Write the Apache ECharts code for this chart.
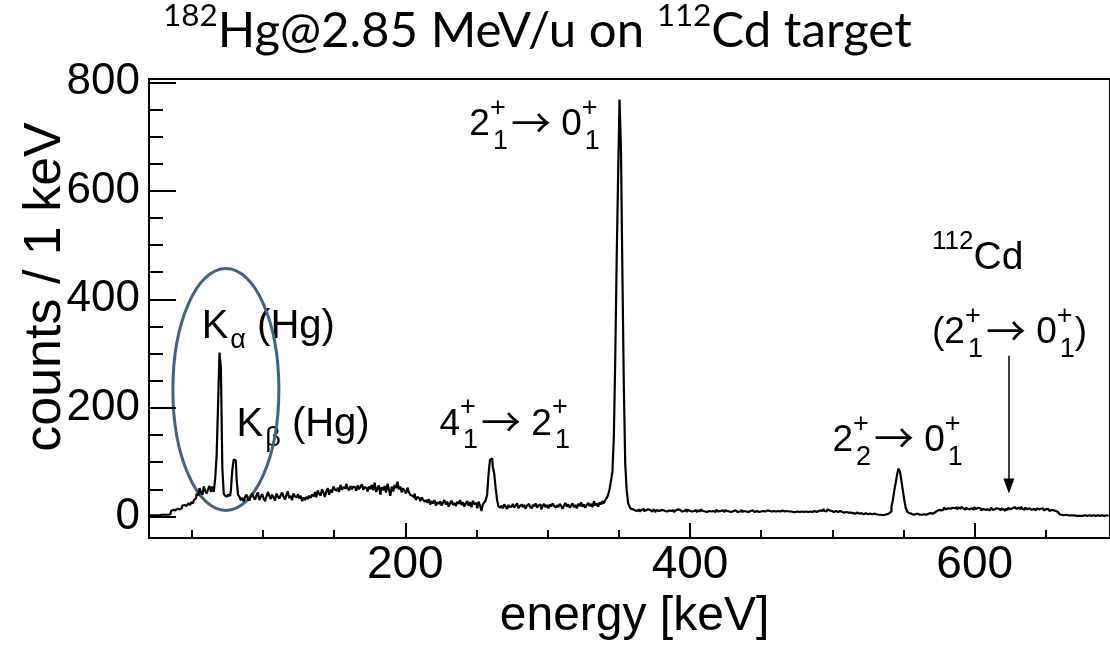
<!DOCTYPE html>
<html>
<head>
<meta charset="utf-8">
<script src="https://cdn.jsdelivr.net/npm/echarts@6/dist/echarts.min.js"></script>
<style>
  html, body { margin: 0; padding: 0; background: #fff; }
  #main { width: 1110px; height: 646px; }
</style>
</head>
<body>
<div id="main"></div>
<script>
// spectrum: counts per 1 keV bin, first bin at eMin
const eMin = 20;
const counts = [
  2,2,2,2,2,2,2,2,3,3,            // 20
  3,3,3,3,3,4,10,12,11,13,        // 30
  14,13,16,15,20,21,19,22,24,21,  // 40
  26,24,30,33,42,38,52,44,40,55,  // 50
  47,42,50,56,45,55,45,70,112,205,      // 60
  302,274,90,42,38,36,40,38,48,85,      // 70
  105,103,70,40,36,30,34,28,36,40,      // 80
  33,29,38,42,35,31,39,44,30,36,  // 90
  41,33,28,37,45,38,32,40,35,29,  // 100
  42,37,33,39,44,36,31,40,46,34,  // 110
  38,30,42,37,35,41,33,38,28,35,  // 120
  30,36,32,38,34,40,37,45,35,48,  // 130
  42,38,50,44,36,46,52,40,49,44,  // 140
  55,50,47,53,45,58,49,54,51,60,  // 150
  52,48,56,50,55,53,47,57,50,55,  // 160
  59,49,54,52,46,55,50,58,48,62,  // 170
  45,52,57,40,54,48,56,44,60,50,  // 180
  38,55,46,58,52,64,50,55,44,52,  // 190
  47,42,53,45,40,38,35,42,30,36,  // 200
  33,28,35,31,27,30,25,32,22,28,  // 210
  24,30,20,26,23,28,20,25,30,22,  // 220
  27,18,24,29,21,25,19,27,23,30,  // 230
  21,26,18,24,28,20,26,17,29,22,  // 240
  25,15,27,20,10,22,26,30,40,78,  // 250
  104,107,92,78,52,30,18,16,20,15,      // 260
  22,18,14,21,17,19,23,16,20,24,  // 270
  15,19,22,17,21,14,20,23,18,15,  // 280
  21,19,24,16,20,22,13,19,23,17,  // 290
  21,15,22,18,24,19,16,21,17,23,  // 300
  19,14,20,25,18,22,16,20,24,17,  // 310
  21,15,23,19,26,18,22,16,21,25,  // 320
  19,23,17,28,20,24,18,26,22,28,  // 330
  24,30,34,40,50,66,82,146,292,475,     // 340
  627,768,676,451,243,97,49,25,18,14,   // 350
  13,11,12,10,13,9,12,14,10,11,   // 360
  13,10,12,9,11,13,8,12,10,11,    // 370
  9,12,10,13,9,11,14,10,12,8,     // 380
  11,13,10,12,9,11,10,13,8,12,    // 390
  10,9,11,10,12,8,11,9,13,10,     // 400
  9,11,8,10,12,9,10,11,8,12,      // 410
  9,10,9,11,8,12,10,9,11,8,       // 420
  10,9,11,8,10,9,12,8,10,9,       // 430
  11,8,10,9,11,8,9,10,8,11,       // 440
  9,10,8,9,11,8,10,9,8,10,        // 450
  9,8,10,9,8,11,9,8,10,9,         // 460
  8,9,8,10,8,9,11,8,9,10,         // 470
  8,9,10,8,9,11,8,10,9,8,         // 480
  10,9,11,10,14,10,9,13,11,10,    // 490
  9,8,10,9,8,10,9,8,7,9,          // 500
  8,7,8,7,6,7,5,7,6,5,            // 510
  6,5,4,6,5,4,5,3,4,5,            // 520
  3,4,3,4,3,2,4,3,4,3,            // 530
  6,9,18,30,48,62,78,88,82,65,    // 540
  48,30,16,9,6,5,4,3,4,3,         // 550
  5,3,4,3,4,5,3,5,4,6,            // 560
  5,8,7,10,8,12,11,14,12,16,      // 570
  13,15,18,14,16,13,15,17,13,16,  // 580
  14,18,15,12,16,14,13,16,15,12,  // 590
  17,14,16,13,15,11,14,12,15,13,  // 600
  11,14,16,12,13,15,12,14,11,15,  // 610
  13,10,14,12,16,13,15,12,17,14,  // 620
  12,16,13,18,14,12,16,13,15,17,  // 630
  12,14,16,11,15,13,14,12,15,11,  // 640
  13,14,12,10,12,11,9,10,8,6,     // 650
  4,3,2,2,3,2,1,2,2,1,            // 660
  2,1,2,1,1,2,1,2,1,1,            // 670
  2,1,1,2,1,1,2,1,1,2,            // 680
  1,1,2,1,1                       // 690
];

const xMajorTicks = [200, 400, 600];
const xMinorTicks = [50, 100, 150, 250, 300, 350, 450, 500, 550, 650];
const yMajorTicks = [0, 200, 400, 600, 800];
const yMinorTicks = [50, 100, 150, 250, 300, 350, 450, 500, 550, 650, 700, 750];

const histData = counts.map((c, i) => [eMin + i, c]);

const AX = 'Liberation Sans';
const black = '#000';

const chart = echarts.init(document.getElementById('main'));

const option = {
  animation: false,
  backgroundColor: '#fff',
  grid: {
    left: 149, top: 79, width: 963, height: 463,
    show: true, borderColor: black, borderWidth: 2, backgroundColor: 'transparent'
  },
  xAxis: [
    {
      type: 'value', min: 20, max: 695, position: 'bottom',
      axisLine: { show: true, onZero: false, lineStyle: { color: black, width: 2 } },
      axisTick: { show: true, inside: true, length: 15, customValues: xMajorTicks, lineStyle: { color: black, width: 2 } },
      axisLabel: { customValues: xMajorTicks, fontSize: 46, fontFamily: AX, color: black, margin: 4 },
      splitLine: { show: false },
      name: 'energy [keV]', nameLocation: 'middle', nameGap: 52,
      nameTextStyle: { fontSize: 48, fontFamily: AX, color: black, padding: [0, 0, 0, 10] }
    },
    {
      type: 'value', min: 20, max: 695, position: 'bottom',
      axisLine: { show: false, onZero: false },
      axisTick: { show: true, inside: true, length: 8, customValues: xMinorTicks, lineStyle: { color: black, width: 2 } },
      axisLabel: { show: false },
      splitLine: { show: false }
    }
  ],
  yAxis: [
    {
      type: 'value', min: -40, max: 806, position: 'left',
      axisLine: { show: true, onZero: false, lineStyle: { color: black, width: 2 } },
      axisTick: { show: true, inside: true, length: 27, customValues: yMajorTicks, lineStyle: { color: black, width: 2 } },
      axisLabel: { customValues: yMajorTicks, fontSize: 44, fontFamily: AX, color: black, margin: 9 },
      splitLine: { show: false }
    },
    {
      type: 'value', min: -40, max: 806, position: 'left',
      axisLine: { show: false, onZero: false },
      axisTick: { show: true, inside: true, length: 14, customValues: yMinorTicks, lineStyle: { color: black, width: 2 } },
      axisLabel: { show: false },
      splitLine: { show: false }
    }
  ],
  series: [
    {
      type: 'line',
      step: 'middle',
      data: histData,
      showSymbol: false,
      symbol: 'none',
      lineStyle: { color: black, width: 2.2 },
      markLine: {
        silent: true,
        symbol: ['none', 'triangle'],
        symbolSize: [11, 15],
        lineStyle: { color: black, width: 1.5, type: 'solid' },
        label: { show: false },
        data: [[{ coord: [624, 296] }, { coord: [624, 56] }]]
      }
    }
  ]
};

chart.setOption(option);

// ---- annotations (formulas with stacked sub/superscripts) ----
const ctx = document.createElement('canvas').getContext('2d');
const measure = (s, size, fam) => { ctx.font = size + 'px "' + fam + '"'; return ctx.measureText(s).width; };

function word(s, x, base, size, fam, mid) {
  return {
    type: 'text', x: x, y: base - mid * size, silent: true,
    style: { text: s, fontSize: size, fontFamily: fam, fill: black, align: 'left', verticalAlign: 'middle' }
  };
}

function layout(parts, x0, base, st) {
  const els = [];
  let x = x0;
  parts.forEach(p => {
    x += p.pre || 0;
    if (p.t) {
      const fam = p.fam || st.family, size = p.size || st.size, mid = p.mid || st.mid;
      els.push(word(p.t, x, base - (p.dy || 0), size, fam, mid));
      x += measure(p.t, size, fam);
    }
    let w = 0;
    if (p.sup) {
      els.push(word(p.sup, x, base - st.supDy, st.supSize, st.family, st.mid));
      w = Math.max(w, measure(p.sup, st.supSize, st.family));
    }
    if (p.sub) {
      els.push(word(p.sub, x + st.subDx, base + st.subDy, st.subSize, st.family, st.mid));
      w = Math.max(w, st.subDx + measure(p.sub, st.subSize, st.family));
    }
    x += w;
  });
  return { els: els, width: x - x0 };
}

const px = (e, c) => chart.convertToPixel({ seriesIndex: 0 }, [e, c]);

const levelStyle = { family: AX, size: 37, supSize: 27, subSize: 27, supDy: 20, subDy: 13, subDx: 3, mid: 0.3465 };
const kStyle = { family: AX, size: 40, supSize: 27, subSize: 27, supDy: 20, subDy: 9, subDx: 2, mid: 0.3465 };
const cdStyle = { family: AX, size: 39, supSize: 26, subSize: 26, supDy: 21, subDy: 13, subDx: 3, mid: 0.3465 };

// thin, long arrow glyph
const arrow = { t: '\u2192', fam: 'Noto Sans CJK SC', size: 40, mid: 0.38, pre: 3, dy: 0 };
const level = (a, sa, b, sb) => [{ t: a, sub: sa, sup: '+' }, arrow, { t: ' ' + b, sub: sb, sup: '+' }];

const annotations = [
  { at: [57, 324], st: kStyle, parts: [{ t: 'K', sub: '\u03b1' }, { t: ' (Hg)' }] },
  { at: [81.5, 143], st: kStyle, parts: [{ t: 'K', sub: '\u03b2' }, { t: ' (Hg)' }] },
  { at: [224, 146], st: levelStyle, parts: level('4', '1', '2', '1') },
  { at: [245, 698], st: levelStyle, parts: level('2', '1', '0', '1') },
  { at: [500, 116], st: levelStyle, parts: level('2', '2', '0', '1') },
  { at: [570, 450], st: cdStyle, parts: [{ sup: '112' }, { t: 'Cd' }] },
  { at: [570, 314], st: levelStyle, parts: level('(2', '1', '0', '1').concat([{ t: ')' }]) }
];

let graphics = [];
annotations.forEach(a => {
  const p = px(a.at[0], a.at[1]);
  graphics = graphics.concat(layout(a.parts, p[0], p[1], a.st).els);
});

// title, fitted to the reference span
const titleParts = [{ sup: '182' }, { t: 'Hg@2.85 MeV/u on ' }, { sup: '112' }, { t: 'Cd target' }];
const mkTitleStyle = s => ({ family: 'Lato', size: s, supSize: s * 0.64, subSize: s * 0.64, supDy: s * 0.44, subDy: 0, subDx: 0, mid: 0.387 });
const w40 = layout(titleParts, 0, 0, mkTitleStyle(40)).width;
const titleSize = 40 * 749 / w40;
graphics = graphics.concat(layout(titleParts, 163, 50, mkTitleStyle(titleSize)).els);

// y axis title
graphics.push({
  type: 'text', x: 46, y: 287, rotation: Math.PI / 2, silent: true,
  style: { text: 'counts / 1 keV', fontSize: 52, fontFamily: AX, fill: black, align: 'center', verticalAlign: 'middle' }
});

// ellipse round the K x-ray lines
const ec = px(74, 234);
graphics.push({
  type: 'ellipse', silent: true,
  shape: { cx: ec[0], cy: ec[1], rx: 53, ry: 121 },
  style: { fill: 'none', stroke: '#41628f', lineWidth: 3 }
});

chart.setOption({ graphic: graphics });
</script>
</body>
</html>
